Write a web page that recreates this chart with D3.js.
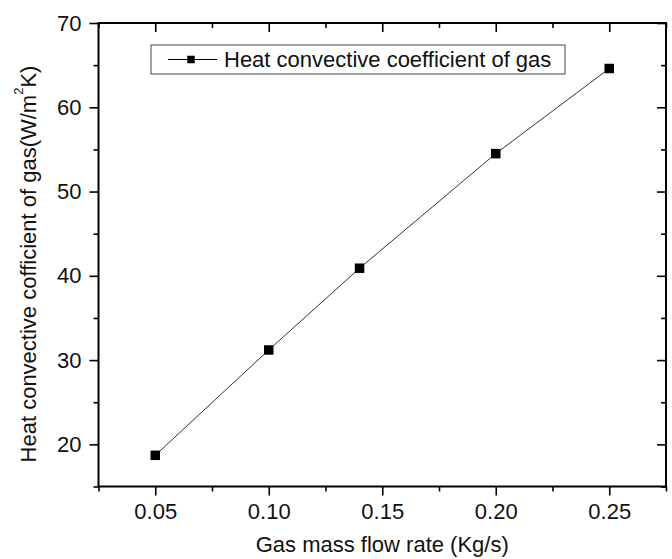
<!DOCTYPE html>
<html>
<head>
<meta charset="utf-8">
<script src="https://cdn.jsdelivr.net/npm/d3@7"></script>
<style>
  html, body { margin: 0; padding: 0; background: #fff; }
  svg { display: block; font-family: "Liberation Sans", Arial, sans-serif; }
</style>
</head>
<body>
<svg id="chart" width="672" height="559"></svg>
<script>
// Gas mass flow rate (kg/s) and the resulting heat convective coefficient (W/m²K)
const flowRates = [0.05, 0.10, 0.14, 0.20, 0.25];
const coefficients = [18.7, 31.2, 40.9, 54.5, 64.6];
const xTickValues = [0.05, 0.10, 0.15, 0.20, 0.25];
const yTickValues = [20, 30, 40, 50, 60, 70];
const xMinorTicks = [0.025, 0.075, 0.125, 0.175, 0.225, 0.275];
const yMinorTicks = [15, 25, 35, 45, 55, 65];
const seriesName = "Heat convective coefficient of gas";

const svg = d3.select("#chart");
const plotLeft = 98.5, plotRight = 666, plotTop = 23, plotBottom = 486.5;
const fontSize = 22;

const x = d3.scaleLinear().domain([0.025, 0.275]).range([plotLeft, plotRight]);
const y = d3.scaleLinear().domain([15, 70]).range([plotBottom, plotTop]);

const majorLen = 9, minorLen = 5;
const fmtX = d3.format(".2f");

function styleAxis(g) {
  g.select(".domain").remove();
  g.selectAll("line").attr("stroke", "#000").attr("stroke-width", 1.6);
  g.selectAll("text").attr("fill", "#111").attr("font-size", fontSize)
    .attr("font-family", "Liberation Sans, Arial, sans-serif");
}

// Bottom axis: outward ticks with labels
svg.append("g").attr("transform", `translate(0,${plotBottom})`)
  .call(d3.axisBottom(x).tickValues(xTickValues).tickFormat(fmtX).tickSizeInner(majorLen).tickSizeOuter(0).tickPadding(8))
  .call(styleAxis);
svg.append("g").attr("transform", `translate(0,${plotBottom})`)
  .call(d3.axisBottom(x).tickValues(xMinorTicks).tickFormat("").tickSizeInner(minorLen).tickSizeOuter(0))
  .call(styleAxis);

// Left axis: outward ticks with labels
svg.append("g").attr("transform", `translate(${plotLeft},0)`)
  .call(d3.axisLeft(y).tickValues(yTickValues).tickFormat(d3.format("d")).tickSizeInner(majorLen).tickSizeOuter(0).tickPadding(8))
  .call(styleAxis);
svg.append("g").attr("transform", `translate(${plotLeft},0)`)
  .call(d3.axisLeft(y).tickValues(yMinorTicks).tickFormat("").tickSizeInner(minorLen).tickSizeOuter(0))
  .call(styleAxis);

// Top axis: inward ticks, no labels
svg.append("g").attr("transform", `translate(0,${plotTop})`)
  .call(d3.axisTop(x).tickValues(xTickValues).tickFormat("").tickSizeInner(-majorLen).tickSizeOuter(0))
  .call(styleAxis);
svg.append("g").attr("transform", `translate(0,${plotTop})`)
  .call(d3.axisTop(x).tickValues(xMinorTicks).tickFormat("").tickSizeInner(-minorLen).tickSizeOuter(0))
  .call(styleAxis);

// Right axis: inward ticks, no labels
svg.append("g").attr("transform", `translate(${plotRight},0)`)
  .call(d3.axisRight(y).tickValues(yTickValues).tickFormat("").tickSizeInner(-majorLen).tickSizeOuter(0))
  .call(styleAxis);
svg.append("g").attr("transform", `translate(${plotRight},0)`)
  .call(d3.axisRight(y).tickValues(yMinorTicks).tickFormat("").tickSizeInner(-minorLen).tickSizeOuter(0))
  .call(styleAxis);

// Plot frame
svg.append("rect")
  .attr("x", plotLeft).attr("y", plotTop)
  .attr("width", plotRight - plotLeft).attr("height", plotBottom - plotTop)
  .attr("fill", "none").attr("stroke", "#000").attr("stroke-width", 2);

// Data line and square markers
const pts = flowRates.map((f, i) => [f, coefficients[i]]);
svg.append("path")
  .datum(pts)
  .attr("fill", "none")
  .attr("stroke", "#333")
  .attr("stroke-width", 1)
  .attr("d", d3.line().x(d => x(d[0])).y(d => y(d[1])));

const ms = 9.5;
svg.append("g").selectAll("rect")
  .data(pts)
  .join("rect")
  .attr("x", d => x(d[0]) - ms / 2)
  .attr("y", d => y(d[1]) - ms / 2)
  .attr("width", ms).attr("height", ms)
  .attr("fill", "#000");

// Legend
const lg = svg.append("g");
lg.append("rect")
  .attr("x", 151).attr("y", 45).attr("width", 414).attr("height", 29)
  .attr("fill", "#fff").attr("stroke", "#444").attr("stroke-width", 1);
lg.append("line")
  .attr("x1", 168).attr("x2", 217).attr("y1", 59.5).attr("y2", 59.5)
  .attr("stroke", "#000").attr("stroke-width", 1.2);
lg.append("rect")
  .attr("x", 191 - 3.75).attr("y", 59.5 - 3.75).attr("width", 7.5).attr("height", 7.5)
  .attr("fill", "#000");
lg.append("text")
  .attr("x", 224).attr("y", 67)
  .attr("font-size", fontSize).attr("fill", "#111")
  .text(seriesName);

// Axis titles
svg.append("text")
  .attr("x", (plotLeft + plotRight) / 2).attr("y", 552)
  .attr("text-anchor", "middle")
  .attr("font-size", fontSize).attr("fill", "#111")
  .text("Gas mass flow rate (Kg/s)");

const yTitle = svg.append("text")
  .attr("transform", "translate(36,264) rotate(-90)")
  .attr("text-anchor", "middle")
  .attr("font-size", fontSize).attr("fill", "#111");
yTitle.append("tspan").text("Heat convective cofficient of gas(W/m");
yTitle.append("tspan").attr("dy", -13).attr("font-size", 13).text("2");
yTitle.append("tspan").attr("dy", 13).text("K)");
</script>
</body>
</html>
